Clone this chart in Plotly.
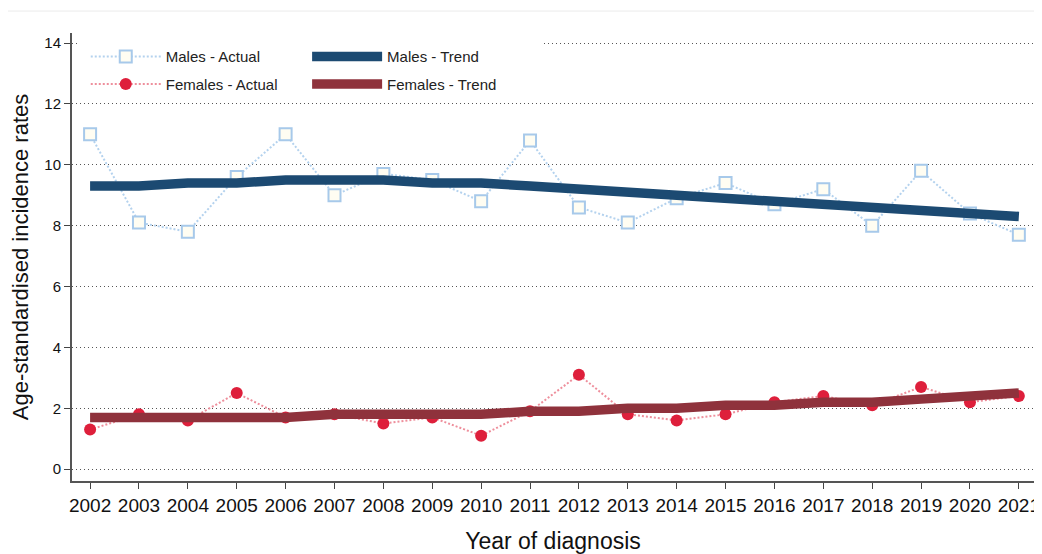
import plotly.graph_objects as go

years = list(range(2002, 2022))

males_actual = [11.0, 8.1, 7.8, 9.6, 11.0, 9.0, 9.7, 9.5, 8.8, 10.8,
                8.6, 8.1, 8.9, 9.4, 8.7, 9.2, 8.0, 9.8, 8.4, 7.7]
males_trend = [9.3, 9.3, 9.4, 9.4, 9.5, 9.5, 9.5, 9.4, 9.4, 9.3,
               9.2, 9.1, 9.0, 8.9, 8.8, 8.7, 8.6, 8.5, 8.4, 8.3]
females_actual = [1.3, 1.8, 1.6, 2.5, 1.7, 1.8, 1.5, 1.7, 1.1, 1.9,
                  3.1, 1.8, 1.6, 1.8, 2.2, 2.4, 2.1, 2.7, 2.2, 2.4]
females_trend = [1.7, 1.7, 1.7, 1.7, 1.7, 1.8, 1.8, 1.8, 1.8, 1.9,
                 1.9, 2.0, 2.0, 2.1, 2.1, 2.2, 2.2, 2.3, 2.4, 2.5]

y_ticks = [0, 2, 4, 6, 8, 10, 12, 14]

FONT = "Liberation Sans, Arial, sans-serif"

fig = go.Figure()

# actual values go in the left legend column, trends in the right one
fig.add_trace(go.Scatter(
    x=years, y=males_actual, name="Males - Actual", mode="lines+markers",
    line=dict(color="#b4d2ee", width=2, dash="2px,2px"),
    marker=dict(symbol="square", size=12, color="#fffdf2",
                line=dict(color="#a7c9ea", width=2)),
    legend="legend", legendgroup="ma"))
fig.add_trace(go.Scatter(
    x=years, y=males_trend, name="Males - Trend", mode="lines",
    line=dict(color="#1c4a72", width=9.5),
    legend="legend2", legendgroup="mt"))
fig.add_trace(go.Scatter(
    x=years, y=females_actual, name="Females - Actual", mode="lines+markers",
    line=dict(color="#ee8f9c", width=2, dash="2px,2px"),
    marker=dict(symbol="circle", size=12, color="#de1f3b"),
    legend="legend", legendgroup="fa"))
fig.add_trace(go.Scatter(
    x=years, y=females_trend, name="Females - Trend", mode="lines",
    line=dict(color="#8f323c", width=9.5),
    legend="legend2", legendgroup="ft"))

leg = dict(orientation="v", yanchor="top", xanchor="left", y=0.984,
           bgcolor="rgba(0,0,0,0)", font=dict(size=15, color="#222"),
           itemwidth=70, traceorder="grouped", tracegroupgap=5)

# page body has an 8px margin, so the figure is 8px smaller each way
fig.update_layout(
    width=1034, height=546,
    margin=dict(l=64, r=8, t=25, b=73),
    paper_bgcolor="white", plot_bgcolor="white",
    font=dict(family=FONT, color="#222"),
    showlegend=True,
    legend=dict(leg, x=0.0143),
    legend2=dict(leg, x=0.2444),
    shapes=[
        # white box behind the legend hides the top gridline there
        dict(type="rect", xref="paper", yref="paper", layer="above",
             x0=0.008, x1=0.49, y0=0.86, y1=0.999,
             fillcolor="white", line=dict(width=0)),
        # faint rule at the very top of the image
        dict(type="line", xref="paper", yref="paper", layer="above",
             x0=-0.08, x1=1.01, y0=1.049, y1=1.049,
             line=dict(color="#ececec", width=1)),
    ],
)

fig.update_xaxes(
    range=[2001.63, 2021.31], tickmode="array", tickvals=years,
    ticktext=[str(y) for y in years], ticks="outside", ticklen=6,
    tickcolor="#444", tickfont=dict(size=19, color="#111"),
    showline=True, linecolor="#555", linewidth=2, showgrid=False, zeroline=False,
    automargin=False,
    title=dict(text="Year of diagnosis", font=dict(size=23, color="#111"), standoff=21),
)
fig.update_yaxes(
    range=[-0.39, 14.33], tickvals=y_ticks, ticks="outside", ticklen=6,
    tickcolor="#444", tickfont=dict(size=15, color="#111"),
    showline=True, linecolor="#555", linewidth=2,
    showgrid=True, gridcolor="#555", griddash="1px,3px", gridwidth=1, zeroline=False,
    automargin=False,
    title=dict(text="Age-standardised incidence rates", font=dict(size=22, color="#111"), standoff=12),
)

fig.write_html("out.html")
